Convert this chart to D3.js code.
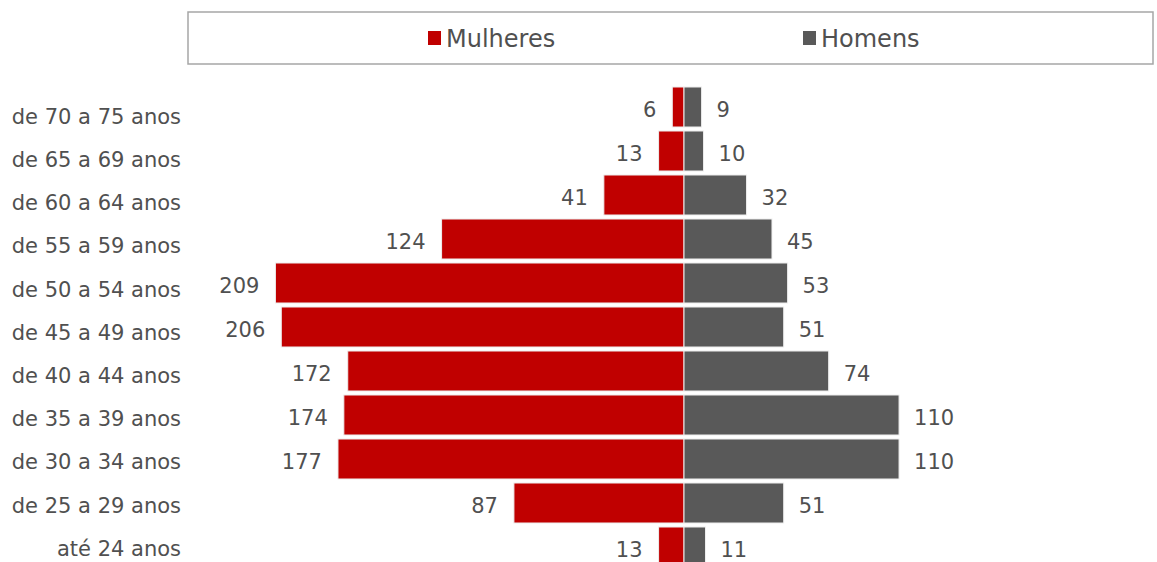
<!DOCTYPE html>
<html>
<head>
<meta charset="utf-8">
<script src="https://cdn.jsdelivr.net/npm/d3@7"></script>
<style>
  html, body { margin: 0; padding: 0; background: #ffffff; }
  svg { display: block; }
  text { font-family: "DejaVu Sans", sans-serif; }
</style>
</head>
<body>
<svg id="chart" width="1157" height="562"></svg>
<script>
const categories = [
  "de 70 a 75 anos", "de 65 a 69 anos", "de 60 a 64 anos", "de 55 a 59 anos",
  "de 50 a 54 anos", "de 45 a 49 anos", "de 40 a 44 anos", "de 35 a 39 anos",
  "de 30 a 34 anos", "de 25 a 29 anos", "até 24 anos"
];
const mulheres = [6, 13, 41, 124, 209, 206, 172, 174, 177, 87, 13];
const homens   = [9, 10, 32, 45, 53, 51, 74, 110, 110, 51, 11];
const seriesNames = ["Mulheres", "Homens"];
const seriesColors = ["#C00000", "#595959"];

const svg = d3.select("#chart");

const centerX = 684;
const pxPerUnit = 1.955;
const x = d3.scaleLinear()
  .domain([-220, 220])
  .range([centerX - 220 * pxPerUnit, centerX + 220 * pxPerUnit]);

const y = d3.scaleBand()
  .domain(categories)
  .range([85, 85 + 44 * 11])
  .paddingInner(4 / 44)
  .paddingOuter(2 / 44);

// category label positions (slightly different pitch than the bars, as in the reference)
const yLabel = d3.scalePoint()
  .domain(categories)
  .range([116.5, 548.5]);

const textColor = "#505050";

// Legend box
svg.append("rect")
  .attr("x", 188).attr("y", 12)
  .attr("width", 965).attr("height", 52)
  .attr("fill", "#fff")
  .attr("stroke", "#a6a6a6")
  .attr("stroke-width", 1.5);

const legendX = [428, 803];
seriesNames.forEach((name, i) => {
  const g = svg.append("g").attr("transform", `translate(${legendX[i]},0)`);
  g.append("rect").attr("x", 0).attr("y", 31).attr("width", 13).attr("height", 14)
    .attr("fill", seriesColors[i]);
  g.append("text").attr("x", 18).attr("y", 47)
    .attr("font-size", 24).attr("fill", textColor)
    .text(name);
});

const rows = categories.map((c, i) => ({ cat: c, m: mulheres[i], h: homens[i] }));

// Bars - Mulheres (left)
svg.append("g").selectAll("rect")
  .data(rows).join("rect")
  .attr("x", d => x(-d.m))
  .attr("y", d => y(d.cat))
  .attr("width", d => x(0) - x(-d.m))
  .attr("height", y.bandwidth())
  .attr("fill", seriesColors[0])
  .attr("stroke", "#eeeeee")
  .attr("stroke-width", 1);

// Bars - Homens (right)
svg.append("g").selectAll("rect")
  .data(rows).join("rect")
  .attr("x", d => x(0))
  .attr("y", d => y(d.cat))
  .attr("width", d => x(d.h) - x(0))
  .attr("height", y.bandwidth())
  .attr("fill", seriesColors[1])
  .attr("stroke", "#eeeeee")
  .attr("stroke-width", 1);

// Value labels
svg.append("g").selectAll("text")
  .data(rows).join("text")
  .attr("x", d => x(-d.m) - 16)
  .attr("y", d => y(d.cat) + y.bandwidth() / 2 + 3)
  .attr("dy", "0.35em")
  .attr("text-anchor", "end")
  .attr("font-size", 21)
  .attr("fill", textColor)
  .text(d => d.m);

svg.append("g").selectAll("text")
  .data(rows).join("text")
  .attr("x", d => x(d.h) + 15)
  .attr("y", d => y(d.cat) + y.bandwidth() / 2 + 3)
  .attr("dy", "0.35em")
  .attr("text-anchor", "start")
  .attr("font-size", 21)
  .attr("fill", textColor)
  .text(d => d.h);

// Category axis
const axis = d3.axisLeft(yLabel).tickSize(0).tickPadding(0);
const axisG = svg.append("g")
  .attr("transform", "translate(181,0)")
  .call(axis);
axisG.select(".domain").remove();
axisG.selectAll("text")
  .attr("font-size", 21)
  .attr("fill", textColor)
  .style("font-family", "'DejaVu Sans', sans-serif");
</script>
</body>
</html>
